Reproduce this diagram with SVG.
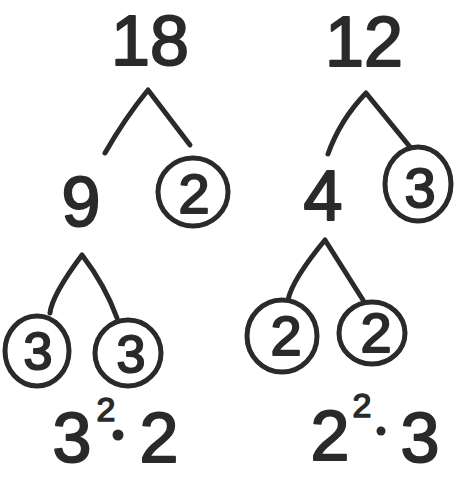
<svg xmlns="http://www.w3.org/2000/svg" width="456" height="478" viewBox="0 0 456 478">
<style>
.t{font-family:"Liberation Sans","DejaVu Sans",sans-serif;fill:#2a2a2a;stroke:#2a2a2a;stroke-width:2;stroke-linejoin:round;text-anchor:middle}
.big{font-size:70px}
.mid{font-size:56px}
.sm{font-size:52px}
.sup{font-size:34px;stroke-width:1.5}
.c{fill:none;stroke:#2a2a2a;stroke-width:5}
.l{fill:none;stroke:#2a2a2a;stroke-width:5;stroke-linecap:round;stroke-linejoin:round}
</style>
<rect width="456" height="478" fill="#fff"/>
<g id="connectors">
<path class="l" d="M105 153 Q125 118 148 90 L190 145"/>
<path class="l" d="M328 154 Q340 120 366 93 L410 147"/>
<path class="l" d="M50 313 Q52 295 82 255 Q105 285 117 318"/>
<path class="l" d="M288 300 Q292 280 325 240 L363 300"/>
</g>
<g id="n18"><text class="t big" x="150" y="65">18</text></g>
<g id="n9"><text class="t big" x="81" y="226">9</text></g>
<g id="n2a"><ellipse class="c" cx="193" cy="192" rx="35" ry="34"/><text class="t mid" x="194" y="213">2</text></g>
<g id="n12"><text class="t big" x="364" y="66">12</text></g>
<g id="n4"><text class="t big" x="323" y="220">4</text></g>
<g id="n3c"><ellipse class="c" cx="418" cy="184" rx="33" ry="37"/><text class="t mid" x="420" y="207">3</text></g>
<g id="n3a"><ellipse class="c" cx="37" cy="351" rx="32" ry="35"/><text class="t sm" x="38" y="369">3</text></g>
<g id="n3b"><ellipse class="c" cx="128" cy="353" rx="33" ry="33"/><text class="t sm" x="131" y="372">3</text></g>
<g id="n2b"><ellipse class="c" cx="282" cy="336" rx="35" ry="36"/><text class="t mid" x="286" y="355">2</text></g>
<g id="n2c"><ellipse class="c" cx="372" cy="333" rx="33" ry="31"/><text class="t mid" x="376" y="352">2</text></g>
<g id="res1"><text class="t big" x="72" y="462">3</text><text class="t sup" x="106" y="421">2</text><circle cx="118" cy="435" r="5.5" fill="#2a2a2a"/><text class="t big" x="159" y="462">2</text></g>
<g id="res2"><text class="t big" x="330" y="460">2</text><text class="t sup" x="362" y="417">2</text><circle cx="381" cy="431" r="4.5" fill="#2a2a2a"/><text class="t big" x="420" y="462">3</text></g>
</svg>
